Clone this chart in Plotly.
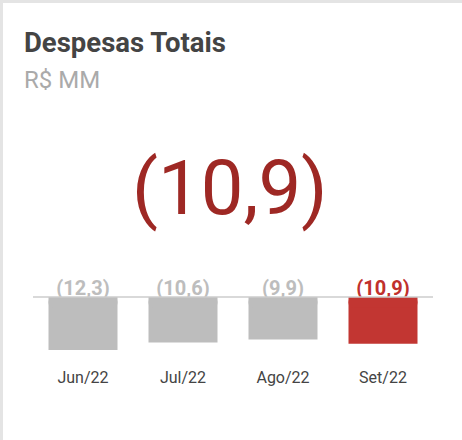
import plotly.graph_objects as go

# Data
categories = ["Jun/22", "Jul/22", "Ago/22", "Set/22"]
values = [12.3, 10.6, 9.9, 10.9]          # despesas (R$ MM), shown in parentheses
value_labels = ["(12,3)", "(10,6)", "(9,9)", "(10,9)"]
headline = "(10,9)"
title = "Despesas Totais"
subtitle = "R$ MM"

W, H = 462, 440
GRAY = "#bdbdbd"
RED = "#c23632"
bar_colors = [GRAY, GRAY, GRAY, RED]
label_colors = ["#bdbdbd", "#bdbdbd", "#bdbdbd", "#c0302c"]

# pixel layout helpers
px_per_unit = 4.3
zero_px = 297
top_px, bot_px = 265, 362
y_range = [-(bot_px - zero_px) / px_per_unit, (zero_px - top_px) / px_per_unit]
y_domain = [(H - bot_px) / H, (H - top_px) / H]
x_domain = [33 / W, 433 / W]
cap = 2.5  # depth (in data units) of the rounded top cap

fig = go.Figure()

# value labels (under the bars, drawn on base subplot)
fig.add_trace(go.Scatter(
    x=categories, y=[1.7] * len(categories), mode="text",
    text=value_labels, textposition="middle center",
    textfont=dict(family="Roboto", size=20, color=label_colors, weight="bold"),
    xaxis="x", yaxis="y", hoverinfo="skip", showlegend=False,
))

# bars on overlaying subplot (drawn above labels): square body + rounded top cap
fig.add_trace(go.Bar(
    x=categories, y=[-v for v in values],
    marker=dict(color=bar_colors, line=dict(width=0)),
    width=0.69, xaxis="x2", yaxis="y2", hoverinfo="skip", showlegend=False,
    base=[0] * len(values),
))
fig.add_trace(go.Bar(
    x=categories, y=[cap] * len(values), base=[-cap] * len(values),
    marker=dict(color=bar_colors, cornerradius=5, line=dict(width=0)),
    width=0.69, xaxis="x2", yaxis="y2", hoverinfo="skip", showlegend=False,
))

fig.update_layout(
    width=W, height=H,
    barmode="overlay",
    margin=dict(l=0, r=0, t=0, b=0),
    paper_bgcolor="white", plot_bgcolor="rgba(0,0,0,0)",
    font=dict(family="Roboto"),
    xaxis=dict(domain=x_domain, anchor="y", range=[-0.5, 3.5],
               showticklabels=True, showgrid=False, zeroline=False, showline=False,
               ticks="", tickfont=dict(family="Roboto", size=16, color="#444444"),
               ticklabelstandoff=4),
    yaxis=dict(domain=y_domain, range=y_range, visible=False, fixedrange=True),
    xaxis2=dict(domain=x_domain, anchor="y2", overlaying="x", range=[-0.5, 3.5],
                visible=False),
    yaxis2=dict(domain=y_domain, range=y_range, overlaying="y", visible=False,
                zeroline=False),
    shapes=[
        # horizontal baseline
        dict(type="line", xref="x domain", yref="y", x0=0, x1=1, y0=0, y1=0,
             line=dict(color="#cccccc", width=1.5), layer="above"),
        # card border (left / top)
        dict(type="rect", xref="paper", yref="paper", x0=0, x1=3 / W, y0=0, y1=1,
             fillcolor="#e4e4e4", line=dict(width=0), layer="below"),
        dict(type="rect", xref="paper", yref="paper", x0=0, x1=1, y0=1 - 3 / H, y1=1,
             fillcolor="#e4e4e4", line=dict(width=0), layer="below"),
    ],
    annotations=[
        dict(text=title, xref="paper", yref="paper", x=22 / W, y=1 - 42 / H,
             xanchor="left", yanchor="middle", showarrow=False,
             font=dict(family="Roboto", size=27.5, color="#444444", weight="bold")),
        dict(text=subtitle, xref="paper", yref="paper", x=22 / W, y=1 - 80 / H,
             xanchor="left", yanchor="middle", showarrow=False,
             font=dict(family="Roboto", size=24, color="#aaaaaa")),
        dict(text=headline, xref="paper", yref="paper", x=230 / W, y=1 - 188 / H,
             xanchor="center", yanchor="middle", showarrow=False,
             font=dict(family="Roboto", size=76, color="#9e2824")),
    ],
)

fig.write_html("out.html", config={"displayModeBar": False},
               post_script="document.body.style.margin='0';")
